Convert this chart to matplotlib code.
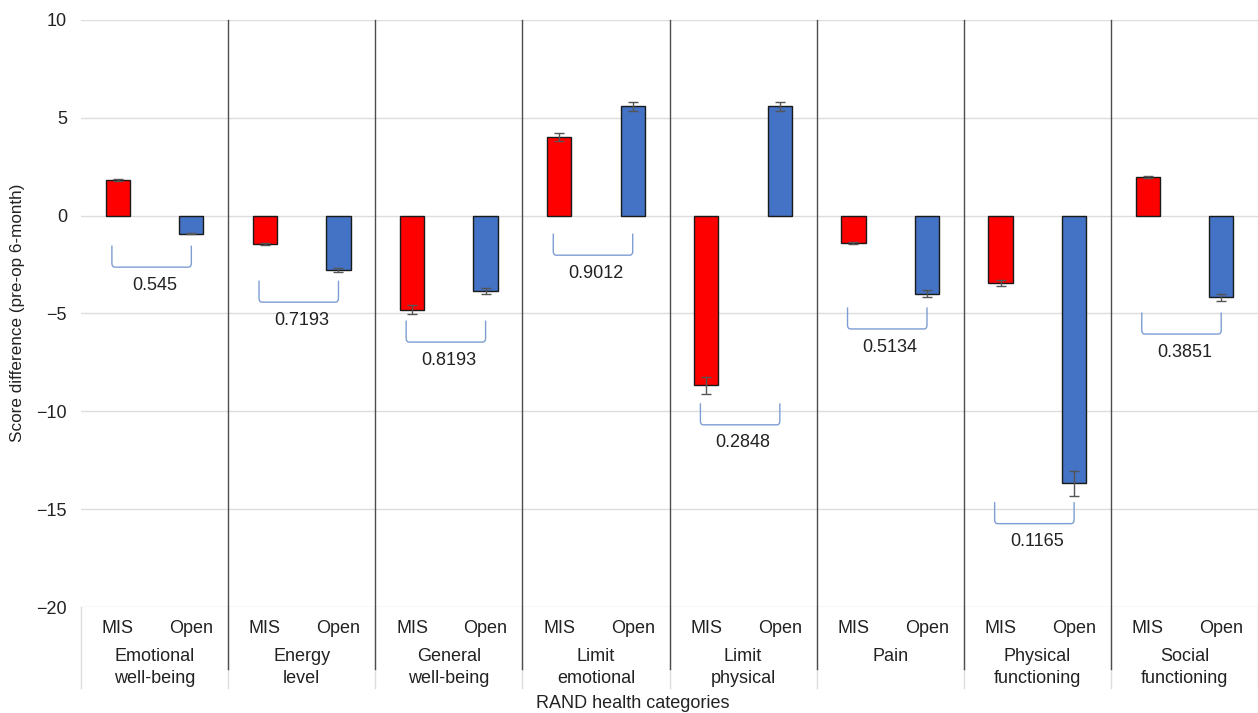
import matplotlib.pyplot as plt
from matplotlib.path import Path
from matplotlib.patches import PathPatch
from matplotlib.transforms import blended_transform_factory
import numpy as np

plt.rcParams['font.family'] = ['Liberation Sans', 'DejaVu Sans']

# Data
categories = ['Emotional\nwell-being', 'Energy\nlevel', 'General\nwell-being',
              'Limit\nemotional', 'Limit\nphysical', 'Pain',
              'Physical\nfunctioning', 'Social\nfunctioning']
mis_values = [1.8, -1.43, -4.8, 4.0, -8.67, -1.38, -3.42, 2.0]
open_values = [-0.92, -2.8, -3.83, 5.58, 5.58, -3.98, -13.68, -4.18]
mis_err = [0.05, 0.05, 0.25, 0.2, 0.45, 0.05, 0.15, 0.05]
open_err = [0.03, 0.1, 0.15, 0.25, 0.25, 0.2, 0.65, 0.2]
p_values = ['0.545', '0.7193', '0.8193', '0.9012', '0.2848', '0.5134', '0.1165', '0.3851']
bracket_top = [-1.53, -3.32, -5.36, -0.92, -9.59, -4.69, -14.64, -4.95]

fig = plt.figure(figsize=(12.58, 7.13), dpi=100)
ax = fig.add_axes([81 / 1258, 1 - 607 / 713, 1 - 81 / 1258, 587 / 713])

x = np.arange(len(categories))
w = 0.165
ax.bar(x - 0.25, mis_values, w, color='#ff0000', edgecolor='#1a1a1a', linewidth=1, zorder=3)
ax.bar(x + 0.25, open_values, w, color='#4472c4', edgecolor='#1a1a1a', linewidth=1, zorder=3)
ax.errorbar(x - 0.25, mis_values, yerr=mis_err, fmt='none', ecolor='#555555',
            elinewidth=1, capsize=3.5, zorder=4)
ax.errorbar(x + 0.25, open_values, yerr=open_err, fmt='none', ecolor='#555555',
            elinewidth=1, capsize=3.5, zorder=4)

# p-value brackets
bh = 1.1
rx, ry = 0.02, 0.2
for xi, top, p in zip(x, bracket_top, p_values):
    x0, x1 = xi - 0.29, xi + 0.25
    bot = top - bh
    verts = [(x0, top), (x0, bot + ry), (x0, bot), (x0 + rx, bot),
             (x1 - rx, bot), (x1, bot), (x1, bot + ry), (x1, top)]
    codes = [Path.MOVETO, Path.LINETO, Path.CURVE3, Path.CURVE3,
             Path.LINETO, Path.CURVE3, Path.CURVE3, Path.LINETO]
    ax.add_patch(PathPatch(Path(verts, codes), facecolor='none',
                           edgecolor='#7d9dd3', linewidth=1, zorder=3))
    ax.annotate(p, (xi, bot), xytext=(0, -13), textcoords='offset points',
                ha='center', va='center', fontsize=13, color='#222222')

ax.set_xlim(-0.5, len(categories) - 0.5)
ax.set_ylim(-20, 10)
ax.set_yticks([-20, -15, -10, -5, 0, 5, 10])
ax.set_xticks([])
ax.tick_params(axis='y', length=0, pad=10, labelsize=13, labelcolor='#222222')
ax.grid(axis='y', color='#dddddd', linewidth=1, zorder=0)
for s in ax.spines.values():
    s.set_visible(False)

# group separators and category label table
trans = blended_transform_factory(ax.transData, ax.transAxes)
for b in np.arange(len(categories) + 1) - 0.5:
    ax.plot([b, b], [0, -0.138], color='#dddddd', linewidth=1,
            transform=trans, clip_on=False, zorder=1)
for b in np.arange(1, len(categories)) - 0.5:
    ax.plot([b, b], [1, -0.1056], color='#4d4d4d', linewidth=1,
            transform=trans, clip_on=False, zorder=2)

for xi, cat in zip(x, categories):
    ax.text(xi - 0.25, -0.037, 'MIS', transform=trans, ha='center', va='center',
            fontsize=13, color='#222222')
    ax.text(xi + 0.25, -0.037, 'Open', transform=trans, ha='center', va='center',
            fontsize=13, color='#222222')
    for k, line in enumerate(cat.split('\n')):
        ax.text(xi, -0.0835 - k * 0.0375, line, transform=trans, ha='center',
                va='center', fontsize=13, color='#222222')

fig.text(633 / 1258, 1 - 703 / 713, 'RAND health categories', ha='center', va='center',
         fontsize=13, color='#222222')
fig.text(18 / 1258, 1 - 313 / 713, 'Score difference (pre-op 6-month)', ha='center',
         va='center', rotation=90, fontsize=12.3, color='#222222')

fig.savefig('out.png', dpi=100)
